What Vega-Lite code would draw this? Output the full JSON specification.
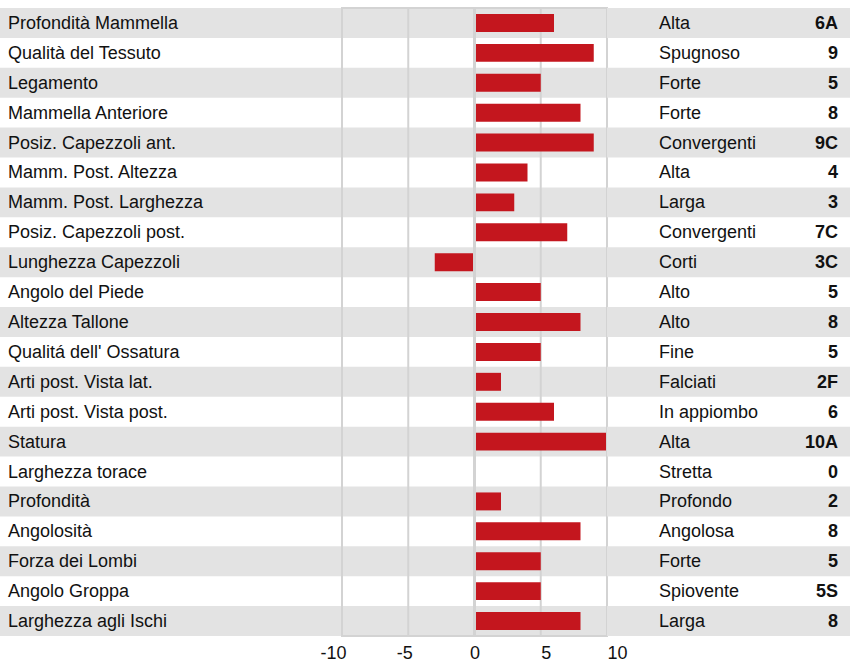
{
  "$schema": "https://vega.github.io/schema/vega-lite/v6.json",
  "padding": {"left": 0, "top": 6, "right": 0, "bottom": 0},
  "background": "white",
  "spacing": 0,
  "bounds": "flush",
  "config": {
    "font": "Liberation Sans",
    "view": {"stroke": null},
    "text": {"font": "Liberation Sans", "fontSize": 18, "color": "#111111", "dy": 1}
  },
  "data": {
    "values": [
      {"name": "Profondità Mammella", "val": 6, "desc": "Alta", "code": "6A"},
      {"name": "Qualità del Tessuto", "val": 9, "desc": "Spugnoso", "code": "9"},
      {"name": "Legamento", "val": 5, "desc": "Forte", "code": "5"},
      {"name": "Mammella Anteriore", "val": 8, "desc": "Forte", "code": "8"},
      {"name": "Posiz. Capezzoli ant.", "val": 9, "desc": "Convergenti", "code": "9C"},
      {"name": "Mamm. Post. Altezza", "val": 4, "desc": "Alta", "code": "4"},
      {"name": "Mamm. Post. Larghezza", "val": 3, "desc": "Larga", "code": "3"},
      {"name": "Posiz. Capezzoli post.", "val": 7, "desc": "Convergenti", "code": "7C"},
      {"name": "Lunghezza Capezzoli", "val": -3, "desc": "Corti", "code": "3C"},
      {"name": "Angolo del Piede", "val": 5, "desc": "Alto", "code": "5"},
      {"name": "Altezza Tallone", "val": 8, "desc": "Alto", "code": "8"},
      {"name": "Qualitá dell' Ossatura", "val": 5, "desc": "Fine", "code": "5"},
      {"name": "Arti post. Vista lat.", "val": 2, "desc": "Falciati", "code": "2F"},
      {"name": "Arti post. Vista post.", "val": 6, "desc": "In appiombo", "code": "6"},
      {"name": "Statura", "val": 10, "desc": "Alta", "code": "10A"},
      {"name": "Larghezza torace", "val": 0, "desc": "Stretta", "code": "0"},
      {"name": "Profondità", "val": 2, "desc": "Profondo", "code": "2"},
      {"name": "Angolosità", "val": 8, "desc": "Angolosa", "code": "8"},
      {"name": "Forza dei Lombi", "val": 5, "desc": "Forte", "code": "5"},
      {"name": "Angolo Groppa", "val": 5, "desc": "Spiovente", "code": "5S"},
      {"name": "Larghezza agli Ischi", "val": 8, "desc": "Larga", "code": "8"}
    ]
  },
  "transform": [{"window": [{"op": "row_number", "as": "rn"}]}],
  "hconcat": [
    {
      "width": 342,
      "height": 628,
      "layer": [
        {
          "transform": [{"filter": "datum.rn % 2 == 1"}],
          "mark": {"type": "rect", "color": "#e3e3e3"},
          "encoding": {
            "y": {"field": "name", "type": "nominal", "sort": {"field": "rn", "op": "min"}, "scale": {"paddingInner": 0, "paddingOuter": 0}, "axis": null},
            "x": {"datum": 0, "type": "quantitative", "scale": {"domain": [0, 1]}, "axis": null},
            "x2": {"datum": 1}
          }
        },
        {
          "mark": {"type": "text", "align": "left", "baseline": "middle", "x": 8},
          "encoding": {
            "y": {"field": "name", "type": "nominal", "sort": {"field": "rn", "op": "min"}, "scale": {"paddingInner": 0, "paddingOuter": 0}, "axis": null},
            "text": {"field": "name"}
          }
        }
      ]
    },
    {
      "width": 265,
      "height": 628,
      "layer": [
        {
          "transform": [{"filter": "datum.rn % 2 == 1"}],
          "mark": {"type": "rect", "color": "#e3e3e3"},
          "encoding": {
            "y": {"field": "name", "type": "nominal", "sort": {"field": "rn", "op": "min"}, "scale": {"paddingInner": 0, "paddingOuter": 0}, "axis": null},
            "x": {"datum": -10, "type": "quantitative"},
            "x2": {"datum": 10}
          }
        },
        {
          "data": {"values": [{"g": -5}, {"g": 5}]},
          "mark": {"type": "rule", "color": "#d3d3d3", "strokeWidth": 2},
          "encoding": {
            "x": {"field": "g", "type": "quantitative"}
          }
        },
        {
          "mark": {"type": "bar", "color": "#c4161e", "height": {"band": 0.6}},
          "encoding": {
            "y": {"field": "name", "type": "nominal", "sort": {"field": "rn", "op": "min"}, "scale": {"paddingInner": 0, "paddingOuter": 0}, "axis": null},
            "x": {
              "field": "val",
              "type": "quantitative",
              "scale": {"domain": [-10, 10], "nice": false, "zero": false},
              "axis": {
                "values": [-10, -5, 0, 5, 10],
                "labelExpr": "toString(datum.value)",
                "grid": false,
                "domain": false,
                "ticks": false,
                "labelFontSize": 18,
                "labelFont": "Liberation Sans",
                "labelColor": "#111111",
                "labelPadding": 8,
                "labelFlush": false,
                "labelBound": false,
                "labelOverlap": false,
                "title": null,
                "labelAlign": {
                  "condition": [
                    {"test": "datum.value < 0", "value": "right"},
                    {"test": "datum.value > 0", "value": "left"}
                  ],
                  "value": "center"
                },
                "labelOffset": {
                  "condition": {"test": "datum.value < 0", "value": 4},
                  "value": 0
                }
              }
            },
            "x2": {"datum": 0}
          }
        },
        {
          "data": {"values": [{"g": 0}]},
          "mark": {"type": "rule", "color": "#d3d3d3", "strokeWidth": 3},
          "encoding": {
            "x": {"field": "g", "type": "quantitative"}
          }
        },
        {
          "data": {"values": [{"a": -10, "b": 10}]},
          "mark": {"type": "rect", "fill": null, "stroke": "#d3d3d3", "strokeWidth": 2},
          "encoding": {
            "x": {"field": "a", "type": "quantitative"},
            "x2": {"field": "b"}
          }
        }
      ]
    },
    {
      "width": 243,
      "height": 628,
      "layer": [
        {
          "transform": [{"filter": "datum.rn % 2 == 1"}],
          "mark": {"type": "rect", "color": "#e3e3e3"},
          "encoding": {
            "y": {"field": "name", "type": "nominal", "sort": {"field": "rn", "op": "min"}, "scale": {"paddingInner": 0, "paddingOuter": 0}, "axis": null},
            "x": {"datum": 0, "type": "quantitative", "scale": {"domain": [0, 1]}, "axis": null},
            "x2": {"datum": 1}
          }
        },
        {
          "mark": {"type": "text", "align": "left", "baseline": "middle", "x": 52},
          "encoding": {
            "y": {"field": "name", "type": "nominal", "sort": {"field": "rn", "op": "min"}, "scale": {"paddingInner": 0, "paddingOuter": 0}, "axis": null},
            "text": {"field": "desc"}
          }
        },
        {
          "mark": {"type": "text", "align": "right", "baseline": "middle", "x": 231, "fontWeight": "bold"},
          "encoding": {
            "y": {"field": "name", "type": "nominal", "sort": {"field": "rn", "op": "min"}, "scale": {"paddingInner": 0, "paddingOuter": 0}, "axis": null},
            "text": {"field": "code"}
          }
        }
      ]
    }
  ]
}
